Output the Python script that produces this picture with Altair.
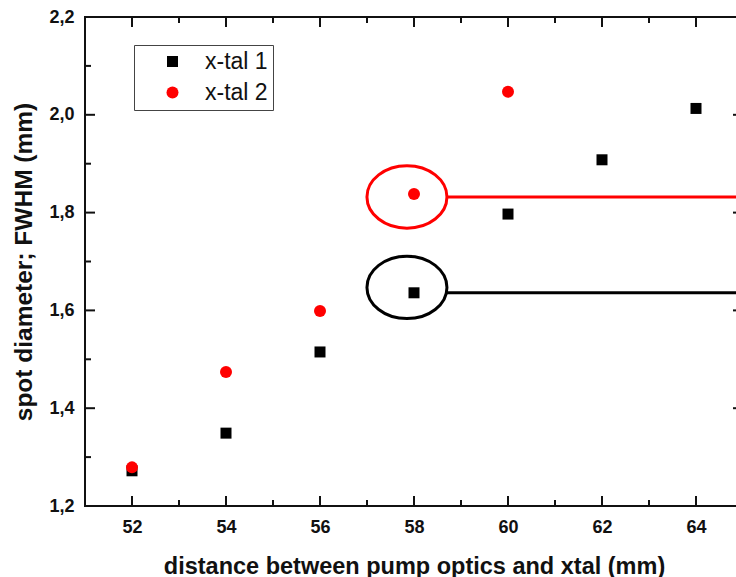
import altair as alt
import pandas as pd

# ---- data ----
x1 = [52, 54, 56, 58, 60, 62, 64]
y1 = [1.272, 1.349, 1.515, 1.636, 1.797, 1.908, 2.013]
x2 = [52, 54, 56, 58, 60]
y2 = [1.279, 1.474, 1.599, 1.838, 2.047]
series_names = ["x-tal 1", "x-tal 2"]
series_colors = ["#000000", "#ff0000"]
series_shapes = ["square", "circle"]
series_sizes = [121, 144]

x_ticks_major = [52, 54, 56, 58, 60, 62, 64]
x_ticks_minor = [53, 55, 57, 59, 61, 63]
y_ticks_major = [1.2, 1.4, 1.6, 1.8, 2.0, 2.2]
y_ticks_minor = [1.3, 1.5, 1.7, 1.9, 2.1]

ann_center_x = [57.85, 57.85]
ann_center_y = [1.832, 1.647]
ann_line_y = [1.832, 1.636]
ann_line_x0 = [58.7, 58.7]
ann_line_x1 = [66.0, 66.0]
ann_colors = ["#ff0000", "#000000"]

X_DOMAIN = [51, 65]
Y_DOMAIN = [1.2, 2.2]
W, H = 658, 489
FONT = "Liberation Sans"

pts = pd.DataFrame(
    {"x": x1 + x2, "y": y1 + y2,
     "series": [series_names[0]] * len(x1) + [series_names[1]] * len(x2)}
)
ann = pd.DataFrame({"cx": ann_center_x, "cy": ann_center_y, "ly": ann_line_y,
                    "lx0": ann_line_x0, "lx1": ann_line_x1, "col": ann_colors})

xs = alt.Scale(domain=X_DOMAIN, nice=False, zero=False)
ys = alt.Scale(domain=Y_DOMAIN, nice=False, zero=False)

X_TITLE = "distance between pump optics and xtal (mm)"
Y_TITLE = "spot diameter; FWHM (mm)"

x_axis = alt.Axis(values=x_ticks_major, ticks=False, domain=False, grid=False,
                  labelFont=FONT, labelFontWeight="bold", labelFontSize=18,
                  labelColor="#111", labelPadding=12,
                  title=X_TITLE,
                  titleFont=FONT, titleFontWeight="bold", titleFontSize=23.5,
                  titleColor="#111", titlePadding=18)
y_axis = alt.Axis(values=y_ticks_major, ticks=False, domain=False, grid=False,
                  labelExpr="replace(format(datum.value, '.1f'), '.', ',')",
                  labelFont=FONT, labelFontWeight="bold", labelFontSize=18,
                  labelColor="#111", labelPadding=11,
                  title=Y_TITLE,
                  titleFont=FONT, titleFontWeight="bold", titleFontSize=24.5,
                  titleColor="#111", titlePadding=12)

points = alt.Chart(pts).mark_point(filled=True, opacity=1).encode(
    x=alt.X("x:Q", scale=xs, axis=x_axis, title=X_TITLE),
    y=alt.Y("y:Q", scale=ys, axis=y_axis, title=Y_TITLE),
    color=alt.Color("series:N", scale=alt.Scale(domain=series_names, range=series_colors),
                    legend=alt.Legend(title=None, orient="none", legendX=49, legendY=28,
                                      strokeColor="#444", fillColor="white", padding=5,
                                      symbolOffset=22, labelOffset=21, rowPadding=7,
                                      labelFont=FONT, labelFontSize=23, labelColor="#111",
                                      symbolSize=135, symbolStrokeWidth=0)),
    shape=alt.Shape("series:N", scale=alt.Scale(domain=series_names, range=series_shapes)),
    size=alt.Size("series:N", scale=alt.Scale(domain=series_names, range=series_sizes), legend=None),
    order=alt.Order("series:N"),
)

ellipse_path = ("M 1 0 C 1 0.43 0.5523 0.78 0 0.78 C -0.5523 0.78 -1 0.43 -1 0 "
                "C -1 -0.43 -0.5523 -0.78 0 -0.78 C 0.5523 -0.78 1 -0.43 1 0 Z")
ellipses = alt.Chart(ann).mark_point(shape=ellipse_path, size=6400, filled=False,
                                      strokeWidth=3, opacity=1).encode(
    x=alt.X("cx:Q", scale=xs, axis=x_axis, title=X_TITLE),
    y=alt.Y("cy:Q", scale=ys, axis=y_axis, title=Y_TITLE),
    stroke=alt.Stroke("col:N", scale=None),
)
lines = alt.Chart(ann).mark_rule(strokeWidth=3).encode(
    x=alt.X("lx0:Q", scale=xs, axis=x_axis, title=X_TITLE),
    x2="lx1:Q",
    y=alt.Y("ly:Q", scale=ys, axis=y_axis, title=Y_TITLE),
    color=alt.Color("col:N", scale=None),
)

xmaj = pd.DataFrame({"t": x_ticks_major})
xmin = pd.DataFrame({"t": x_ticks_minor})
ymaj = pd.DataFrame({"t": y_ticks_major})
ymin = pd.DataFrame({"t": y_ticks_minor})

def xtick(df, y0, y1_):
    return alt.Chart(df).mark_rule(strokeWidth=2, color="#111").encode(
        x=alt.X("t:Q", scale=xs, axis=x_axis, title=X_TITLE),
        y=alt.value(y0), y2=alt.value(y1_))

def ytick(df, x0, x1_):
    return alt.Chart(df).mark_rule(strokeWidth=2, color="#111").encode(
        y=alt.Y("t:Q", scale=ys, axis=y_axis, title=Y_TITLE),
        x=alt.value(x0), x2=alt.value(x1_))

ticks = [
    xtick(xmaj, H, H - 10), xtick(xmin, H, H - 6),
    xtick(xmaj, 0, 10), xtick(xmin, 0, 6),
    ytick(ymaj, 0, 10), ytick(ymin, 0, 6),
    ytick(ymaj, W, W - 10), ytick(ymin, W, W - 6),
]

chart = alt.layer(points, *ticks, lines, ellipses).properties(
    width=W, height=H,
    autosize=alt.AutoSizeParams(type="none"),
    padding={"left": 85, "top": 17, "right": -7, "bottom": 71},
    background="white",
).configure_view(stroke="#111", strokeWidth=2)

chart.save("out.html", embed_options={"renderer": "svg", "actions": False})
